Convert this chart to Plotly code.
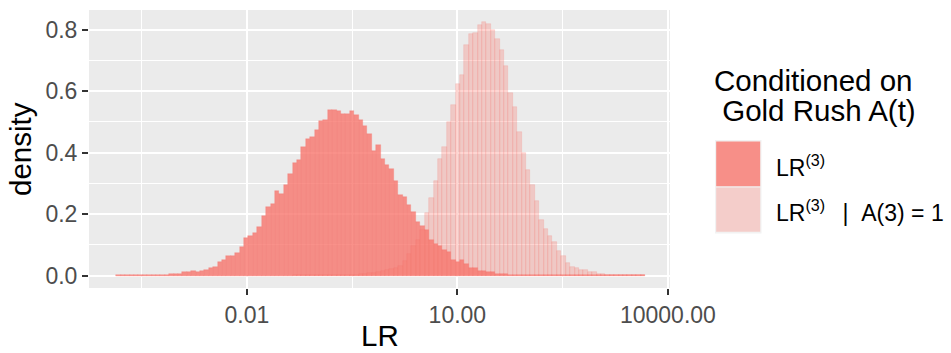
import plotly.graph_objects as go

# ---------------- data ----------------
LOG10_BIN_START = -3.861      # left edge of first bin (log10 LR)
LOG10_BIN_WIDTH = 0.06279     # bin width (log10 units), 120 bins

lr_density = [
    0.001, 0.001, 0.001, 0.001, 0.002, 0.002, 0.002, 0.002, 0.003, 0.003, 0.003, 0.003,
    0.006, 0.006, 0.006, 0.010, 0.010, 0.016, 0.013, 0.016, 0.019, 0.026, 0.029, 0.045,
    0.052, 0.062, 0.062, 0.074, 0.094, 0.123, 0.130, 0.139, 0.159, 0.194, 0.223, 0.233,
    0.275, 0.266, 0.295, 0.330, 0.366, 0.376, 0.418, 0.443, 0.449, 0.473, 0.502, 0.505,
    0.538, 0.538, 0.535, 0.525, 0.525, 0.535, 0.521, 0.505, 0.486, 0.460, 0.405, 0.424,
    0.379, 0.359, 0.346, 0.308, 0.262, 0.254, 0.230, 0.207, 0.174, 0.162, 0.149, 0.117,
    0.104, 0.095, 0.082, 0.078, 0.052, 0.045, 0.049, 0.039, 0.026, 0.026, 0.016, 0.016,
    0.010, 0.010, 0.0065, 0.0065, 0.0065,
    0.003, 0.003, 0.003, 0.003, 0.003, 0.003, 0.003,
    0.002, 0.002, 0.002, 0.002, 0.002, 0.002, 0.002, 0.002, 0.002, 0.002,
    0.001, 0.001, 0.001, 0.001, 0.001, 0.001, 0.001, 0.001, 0.001, 0.001, 0.001, 0.001,
    0.001, 0.001,
]

lr_given_a_density = [0.0] * 40 + [0.001] * 11 + [
    0.002, 0.002, 0.003, 0.003, 0.004, 0.005, 0.007, 0.009, 0.011, 0.014, 0.017, 0.020,
    0.024, 0.030, 0.046, 0.071, 0.095, 0.117, 0.149, 0.205, 0.253, 0.308, 0.379, 0.418,
    0.499, 0.554, 0.622, 0.651, 0.751, 0.787, 0.790, 0.816, 0.823, 0.819, 0.797, 0.768,
    0.735, 0.683, 0.593, 0.547, 0.466, 0.398, 0.343, 0.295, 0.243, 0.181, 0.152, 0.130,
    0.110, 0.081, 0.062, 0.042, 0.029, 0.023, 0.019, 0.019, 0.010, 0.010, 0.006, 0.006,
    0.003, 0.003, 0.002, 0.002, 0.002, 0.001, 0.001, 0.001, 0.001,
]

x_tick_log10 = [-2, 1, 4]
x_tick_labels = ["0.01", "10.00", "10000.00"]
x_minor_log10 = [-3.5, -0.5, 2.5]
y_ticks = [0.0, 0.2, 0.4, 0.6, 0.8]
y_tick_labels = ["0.0", "0.2", "0.4", "0.6", "0.8"]
y_minor = [0.1, 0.3, 0.5, 0.7]

legend_title_lines = ["Conditioned on", "\u00a0Gold Rush A(t)"]
series_labels = ["LR<sup>(3)</sup>",
                 "LR<sup>(3)</sup>\u00a0\u00a0\u2009|\u00a0\u00a0A(3) = 1"]

# ---------------- layout constants ----------------
W, H = 951, 353
PL, PR, PT, PB = 89, 670, 10, 288   # plot panel in pixels
FONT = "Liberation Sans, Arial, sans-serif"
TITLE_SIZE = 29.5
TEXT_SIZE = 23
BASE = "248,118,109"
fills = [f"rgba({BASE},0.8)", f"rgba({BASE},0.3)"]
edges = [f"rgba({BASE},0.45)", f"rgba({BASE},0.3)"]


def px(x):
    return (x - PL) / (PR - PL)


def py(y):
    return (PB - y) / (PB - PT)


centers = [LOG10_BIN_START + (i + 0.5) * LOG10_BIN_WIDTH for i in range(len(lr_density))]

fig = go.Figure()
for vals, fc, lc in zip([lr_density, lr_given_a_density], fills, edges):
    fig.add_trace(go.Bar(
        x=centers, y=vals, width=LOG10_BIN_WIDTH,
        marker=dict(color=fc, line=dict(color=lc, width=0.6)),
        showlegend=False, hoverinfo="skip",
    ))

axis_common = dict(
    showline=False, zeroline=False, ticks="outside", ticklen=6, tickwidth=2,
    tickcolor="#333333", showgrid=True, gridcolor="white", gridwidth=2.4,
    tickfont=dict(family=FONT, size=TEXT_SIZE, color="#4D4D4D"),
)

fig.update_layout(
    width=W, height=H,
    margin=dict(l=PL, r=W - PR, t=PT, b=H - PB, pad=0),
    paper_bgcolor="white", plot_bgcolor="#EBEBEB",
    barmode="overlay", bargap=0,
    xaxis=dict(range=[-4.25, 4.03], tickmode="array", tickvals=x_tick_log10,
               ticktext=x_tick_labels,
               minor=dict(tickmode="array", tickvals=x_minor_log10, showgrid=True,
                          gridcolor="white", gridwidth=1.2, ticks=""),
               **axis_common),
    yaxis=dict(range=[-0.0405, 0.8635], tickmode="array", tickvals=y_ticks,
               ticktext=y_tick_labels,
               minor=dict(tickmode="array", tickvals=y_minor, showgrid=True,
                          gridcolor="white", gridwidth=1.2, ticks=""),
               **axis_common),
)

# axis titles
fig.add_annotation(x=px((PL + PR) / 2), y=py(353), xref="paper", yref="paper",
                   text="LR", showarrow=False, xanchor="center", yanchor="bottom",
                   borderpad=0,
                   font=dict(family=FONT, size=TITLE_SIZE, color="black"))
fig.add_annotation(x=px(20), y=py((PT + PB) / 2), xref="paper", yref="paper",
                   text="density", textangle=-90, showarrow=False,
                   xanchor="center", yanchor="middle",
                   font=dict(family=FONT, size=TITLE_SIZE, color="black"))

# legend (drawn manually to match ggplot key sizes)
fig.add_annotation(x=px(712), y=py(81), xref="paper", yref="paper",
                   text=legend_title_lines[0], showarrow=False, xanchor="left",
                   yanchor="middle", font=dict(family=FONT, size=TITLE_SIZE, color="black"))
fig.add_annotation(x=px(712), y=py(110), xref="paper", yref="paper",
                   text=legend_title_lines[1], showarrow=False, xanchor="left",
                   yanchor="middle", font=dict(family=FONT, size=TITLE_SIZE, color="black"))

fig.add_shape(type="rect", xref="paper", yref="paper",
              x0=px(715), x1=px(761.5), y0=py(140), y1=py(233.5),
              fillcolor="#F2F2F2", line=dict(width=0))
key_rows = [(141.5, 186.3), (187.6, 231.8)]
label_y = [166, 211]
for (t, b), fc, lab, ly in zip(key_rows, fills, series_labels, label_y):
    fig.add_shape(type="rect", xref="paper", yref="paper",
                  x0=px(716.2), x1=px(760.2), y0=py(b), y1=py(t),
                  fillcolor=fc, line=dict(width=0))
    fig.add_annotation(x=px(774), y=py(ly), xref="paper", yref="paper",
                       text=lab, showarrow=False, xanchor="left", yanchor="middle",
                       font=dict(family=FONT, size=TEXT_SIZE, color="black"))

fig.write_html("out.html")
